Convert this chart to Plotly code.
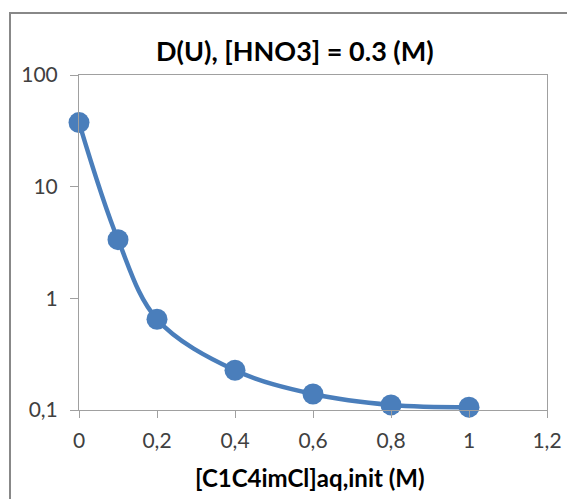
import plotly.graph_objects as go

# Data
conc = [0, 0.1, 0.2, 0.4, 0.6, 0.8, 1.0]
d_u = [37.5, 3.35, 0.65, 0.227, 0.139, 0.111, 0.106]

x_tick_vals = [0, 0.2, 0.4, 0.6, 0.8, 1.0, 1.2]
x_tick_labels = ["0", "0,2", "0,4", "0,6", "0,8", "1", "1,2"]
y_tick_vals = [0.1, 1, 10, 100]
y_tick_labels = ["0,1", "1", "10", "100"]

title_text = "D(U), [HNO3] = 0.3 (M)"
x_title_text = "[C1C4imCl]aq,init (M)"

# page has an 8px body margin; work in reference-pixel coords
OFF = 8
W, H = 575 - OFF, 499 - OFF
PL, PR, PT, PB = 79, 547, 75, 410  # plot area in reference pixels
L, T = PL - OFF, PT - OFF
R = W - (PR - OFF)
B = H - (PB - OFF)
pw, ph = PR - PL, PB - PT

def px_x(x):
    return (x - PL) / pw

def px_y(y):
    return (PB - y) / ph

blue = "#4A7EBB"
axis_col = "#A0A0A0"
font_fam = "Lato, 'Open Sans', sans-serif"

fig = go.Figure()
fig.add_trace(go.Scatter(
    x=conc, y=d_u, mode="lines+markers",
    line=dict(color=blue, width=4.5, shape="spline", smoothing=1.0),
    marker=dict(color=blue, size=21),
    cliponaxis=False, showlegend=False,
))

fig.update_layout(
    width=W, height=H,
    margin=dict(l=L, r=R, t=T, b=B),
    paper_bgcolor="white", plot_bgcolor="white",
    font=dict(family=font_fam, color="#404040"),
    xaxis=dict(
        range=[0, 1.2], tickvals=x_tick_vals, ticktext=x_tick_labels,
        showgrid=False, zeroline=False, showline=True, linecolor=axis_col,
        linewidth=1, mirror=True, ticks="outside", ticklen=7, tickcolor=axis_col,
        tickfont=dict(size=21, color="#404040"), ticklabelstandoff=5,
    ),
    yaxis=dict(
        type="log", range=[-1, 2], tickvals=y_tick_vals, ticktext=y_tick_labels,
        showgrid=False, zeroline=False, showline=True, linecolor=axis_col,
        linewidth=1, mirror=True, ticks="outside", ticklen=8, tickcolor=axis_col,
        tickfont=dict(size=21, color="#404040"), ticklabelstandoff=8,
    ),
    shapes=[dict(
        type="rect", xref="paper", yref="paper",
        x0=px_x(10), x1=px_x(600), y0=px_y(530), y1=px_y(13),
        line=dict(color="#888888", width=2), fillcolor="rgba(0,0,0,0)", layer="below",
    )],
    annotations=[
        dict(text="<b>" + title_text + "</b>", xref="paper", yref="paper",
             x=px_x(295), y=px_y(51), xanchor="center", yanchor="middle",
             showarrow=False, font=dict(size=27, color="#000000", family=font_fam)),
        dict(text="<b>" + x_title_text + "</b>", xref="paper", yref="paper",
             x=px_x(310), y=px_y(477), xanchor="center", yanchor="middle",
             showarrow=False, font=dict(size=24, color="#000000", family=font_fam)),
    ],
)

fig.write_html("out.html")
